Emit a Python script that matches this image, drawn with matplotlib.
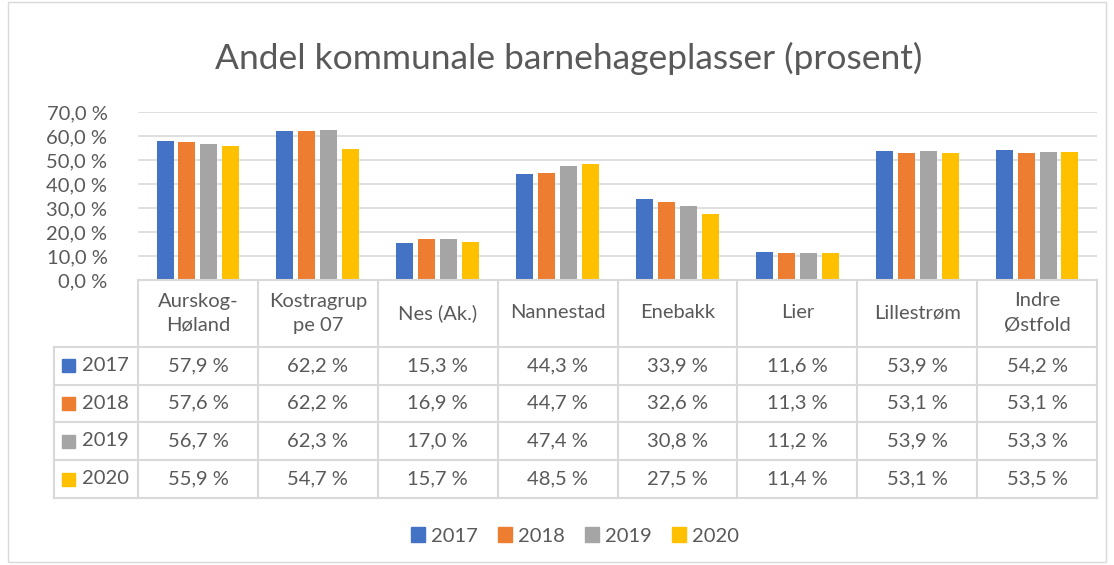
import numpy as np
import matplotlib.pyplot as plt
from matplotlib.lines import Line2D
from matplotlib.patches import Rectangle

plt.rcParams['font.family'] = ['Lato', 'DejaVu Sans']

kommuner = ['Aurskog-\nHøland', 'Kostragrup\npe 07', 'Nes (Ak.)', 'Nannestad',
            'Enebakk', 'Lier', 'Lillestrøm', 'Indre\nØstfold']
aar = ['2017', '2018', '2019', '2020']
v2017 = [57.9, 62.2, 15.3, 44.3, 33.9, 11.6, 53.9, 54.2]
v2018 = [57.6, 62.2, 16.9, 44.7, 32.6, 11.3, 53.1, 53.1]
v2019 = [56.7, 62.3, 17.0, 47.4, 30.8, 11.2, 53.9, 53.3]
v2020 = [55.9, 54.7, 15.7, 48.5, 27.5, 11.4, 53.1, 53.5]
serier = [v2017, v2018, v2019, v2020]
farger = ['#4472C4', '#ED7D31', '#A5A5A5', '#FFC000']

W, H = 1114, 565
TXT = '#595959'
GRID = '#D9D9D9'
FS = 14.5

def fx(x):
    return x / W

def fy(y):
    return 1 - y / H

fig = plt.figure(figsize=(W / 100, H / 100), dpi=100)

# ramme rundt hele diagrammet
fig.patches.append(Rectangle((fx(8), fy(562)), fx(1106) - fx(8), fy(2) - fy(562),
                             transform=fig.transFigure, fill=False,
                             edgecolor=GRID, lw=1))

# akser
x_l, x_r, y_t, y_b = 138, 1097, 112, 280
ax = fig.add_axes([fx(x_l), fy(y_b), fx(x_r) - fx(x_l), fy(y_t) - fy(y_b)])

x = np.arange(len(kommuner))
bw = 0.142
step = 0.183
for i, (s, c) in enumerate(zip(serier, farger)):
    ax.bar(x + (i - 1.5) * step, s, width=bw, color=c, zorder=3)

ax.set_xlim(-0.5, len(kommuner) - 0.5)
ax.set_ylim(0, 70)
ax.set_yticks(np.arange(0, 71, 10))
ax.set_yticklabels([f'{v:.1f} %'.replace('.', ',') for v in np.arange(0, 71, 10)],
                   fontsize=FS, color=TXT)
ax.tick_params(axis='y', length=0, pad=22)
ax.set_xticks([])
ax.grid(axis='y', color=GRID, lw=1.2, zorder=0)
for sp in ax.spines.values():
    sp.set_visible(False)

fig.text(fx(569), fy(58), 'Andel kommunale barnehageplasser (prosent)',
         ha='center', va='center', fontsize=25.5, color=TXT)

# datatabell
col_w = (x_r - x_l) / len(kommuner)
rows = [347, 384.5, 422, 460, 498]
lkw = dict(transform=fig.transFigure, color=GRID, lw=1.5)

fig.lines.append(Line2D([fx(x_l), fx(x_r)], [fy(y_b), fy(y_b)], **lkw))
for r in rows:
    fig.lines.append(Line2D([fx(54), fx(x_r)], [fy(r), fy(r)], **lkw))
for k in range(len(kommuner) + 1):
    xx = x_l + k * col_w
    fig.lines.append(Line2D([fx(xx), fx(xx)], [fy(y_b), fy(rows[-1])], **lkw))
fig.lines.append(Line2D([fx(54), fx(54)], [fy(rows[0]), fy(rows[-1])], **lkw))

for k, navn in enumerate(kommuner):
    fig.text(fx(x_l + (k + 0.5) * col_w), fy(313), navn, ha='center', va='center',
             fontsize=FS, color=TXT, linespacing=1.5)

for i, (lbl, s, c) in enumerate(zip(aar, serier, farger)):
    yc = (rows[i] + rows[i + 1]) / 2
    fig.patches.append(Rectangle((fx(62), fy(yc + 6.5)), fx(13), fy(0) - fy(13),
                                 transform=fig.transFigure, color=c))
    fig.text(fx(82), fy(yc), lbl, ha='left', va='center', fontsize=FS, color=TXT)
    for k, v in enumerate(s):
        fig.text(fx(x_l + (k + 0.5) * col_w), fy(yc), f'{v:.1f} %'.replace('.', ','),
                 ha='center', va='center', fontsize=FS, color=TXT)

# forklaring
handles = [Rectangle((0, 0), 1, 1, color=c) for c in farger]
fig.legend(handles, aar, loc='center', bbox_to_anchor=(fx(575), fy(536)),
           ncol=4, frameon=False, fontsize=FS, labelcolor=TXT,
           handlelength=0.7, handleheight=0.7, handletextpad=0.3,
           columnspacing=1.0)

fig.savefig('out.png', dpi=100)
